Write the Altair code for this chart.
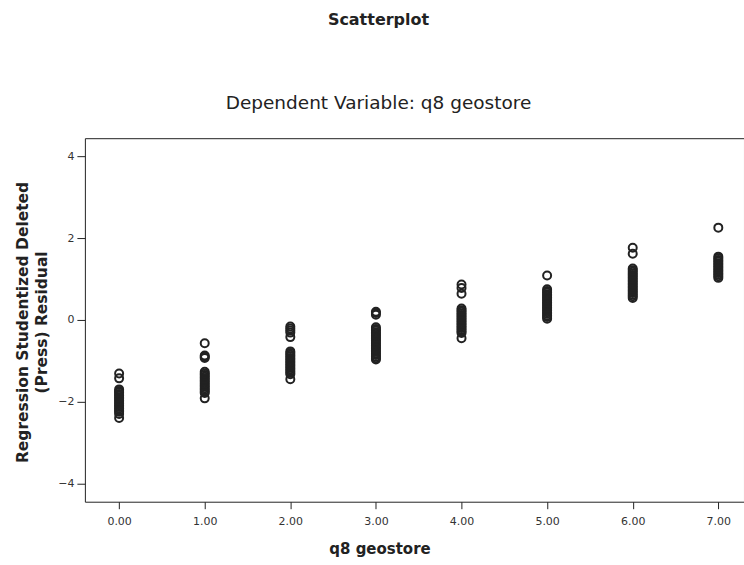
import altair as alt
import pandas as pd

# Studentized deleted (press) residuals, grouped by the q8 geostore response level
res_0 = [-1.31, -1.43, -1.70, -1.74, -1.77, -1.81, -1.85, -1.89, -1.93, -1.97, -2.01,
         -2.05, -2.09, -2.13, -2.17, -2.21, -2.25, -2.30, -2.40]
res_1 = [-0.57, -0.87, -0.90, -0.93, -1.27, -1.31, -1.35, -1.39, -1.43, -1.47, -1.51,
         -1.55, -1.59, -1.63, -1.67, -1.71, -1.75, -1.79, -1.92]
res_2 = [-0.16, -0.21, -0.26, -0.31, -0.42, -0.77, -0.81, -0.85, -0.89, -0.93, -0.97,
         -1.01, -1.05, -1.09, -1.13, -1.17, -1.21, -1.25, -1.29, -1.33, -1.45]
res_3 = [0.20, 0.17, 0.13, -0.18, -0.22, -0.26, -0.30, -0.34, -0.38, -0.42, -0.46, -0.50,
         -0.54, -0.58, -0.62, -0.66, -0.70, -0.74, -0.78, -0.82, -0.86, -0.90, -0.94, -0.97]
res_4 = [0.87, 0.78, 0.64, 0.28, 0.24, 0.20, 0.16, 0.12, 0.08, 0.04, 0.00, -0.04, -0.08,
         -0.12, -0.16, -0.20, -0.24, -0.28, -0.32, -0.45]
res_5 = [1.09, 0.75, 0.71, 0.67, 0.63, 0.59, 0.55, 0.51, 0.47, 0.43, 0.39, 0.35, 0.31,
         0.27, 0.23, 0.19, 0.15, 0.11, 0.07, 0.03]
res_6 = [1.77, 1.62, 1.26, 1.22, 1.18, 1.14, 1.10, 1.06, 1.02, 0.98, 0.94, 0.90, 0.86,
         0.82, 0.78, 0.74, 0.70, 0.66, 0.62, 0.58, 0.54]
res_7 = [2.26, 1.55, 1.51, 1.47, 1.43, 1.39, 1.35, 1.31, 1.27, 1.23, 1.19, 1.15, 1.11,
         1.07, 1.03]

levels = [0, 1, 2, 3, 4, 5, 6, 7]
residuals = [res_0, res_1, res_2, res_3, res_4, res_5, res_6, res_7]

x_ticks = [0, 1, 2, 3, 4, 5, 6, 7]
y_ticks = [-4, -2, 0, 2, 4]

rows = [
    {"q8": lvl, "resid": r}
    for lvl, vals in zip(levels, residuals)
    for r in vals
]
df = pd.DataFrame(rows)

FONT = "DejaVu Sans"
INK = "#222222"

chart = (
    alt.Chart(df)
    .mark_point(shape="circle", filled=False, size=64, strokeWidth=2, color=INK, opacity=1)
    .encode(
        x=alt.X(
            "q8:Q",
            scale=alt.Scale(domain=[-0.4, 7.3], nice=False, zero=False),
            axis=alt.Axis(
                values=x_ticks,
                format=".2f",
                title="q8 geostore",
                titleFont=FONT,
                titleFontSize=15,
                titleFontWeight="bold",
                titleColor=INK,
                titleX=295,
                titleY=47,
                titleBaseline="middle",
                titleAnchor="start",
                titleAlign="center",
                labelFont=FONT,
                labelFontSize=11,
                labelColor="#333333",
                labelPadding=7,
                tickSize=7,
                tickColor=INK,
                domain=False,
                grid=False,
            ),
        ),
        y=alt.Y(
            "resid:Q",
            scale=alt.Scale(domain=[-4.45, 4.45], nice=False, zero=False),
            axis=alt.Axis(
                values=y_ticks,
                format="d",
                title=["Regression Studentized Deleted", "(Press) Residual"],
                titleFont=FONT,
                titleFontSize=15.5,
                titleFontWeight="bold",
                titleColor=INK,
                titleX=-62,
                titleY=184,
                titleAngle=270,
                titleBaseline="middle",
                titleAlign="center",
                titleLineHeight=19,
                labelFont=FONT,
                labelFontSize=11,
                labelColor="#333333",
                labelPadding=3,
                tickSize=8,
                tickColor=INK,
                domain=False,
                grid=False,
            ),
        ),
    )
    .properties(
        width=660,
        height=364,
        autosize=alt.AutoSizeParams(type="none"),
        padding={"left": 85, "top": 138, "right": 0, "bottom": 63},
        title=alt.TitleParams(
            text="Scatterplot",
            subtitle="Dependent Variable: q8 geostore",
            anchor="middle",
            frame="group",
            dx=-36,
            offset=26,
            font=FONT,
            fontSize=16,
            fontWeight="bold",
            color=INK,
            subtitleFont=FONT,
            subtitleFontSize=18.5,
            subtitleColor=INK,
            subtitlePadding=66,
        ),
    )
    .configure_view(stroke=INK, strokeWidth=1)
)

chart.save("out.html", embed_options={"renderer": "svg", "actions": False})
